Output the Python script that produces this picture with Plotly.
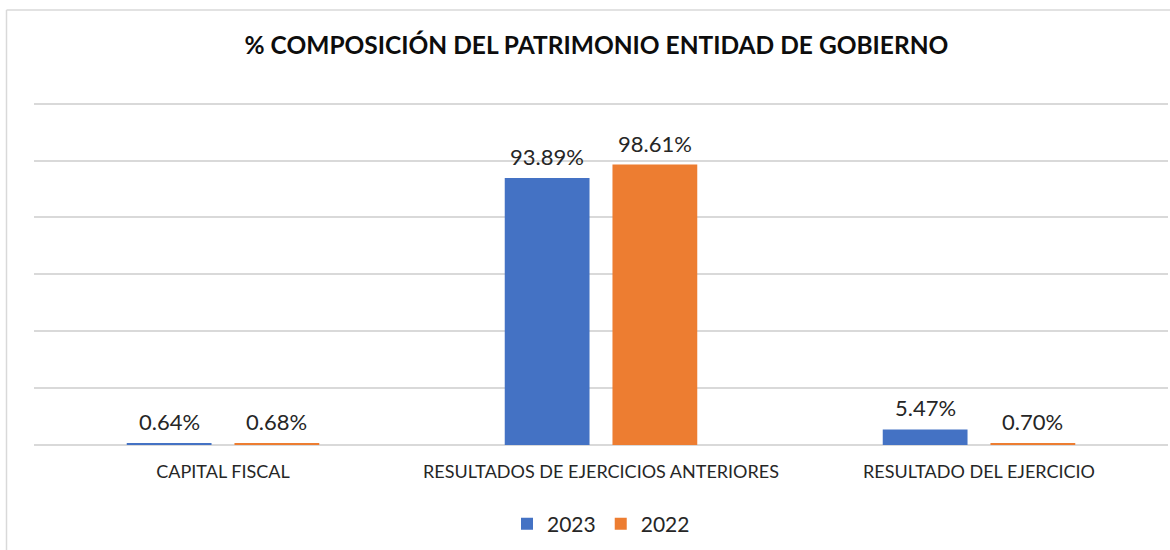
import plotly.graph_objects as go

categories = ["CAPITAL FISCAL", "RESULTADOS DE EJERCICIOS ANTERIORES", "RESULTADO DEL EJERCICIO"]
values_2023 = [0.64, 93.89, 5.47]
values_2022 = [0.68, 98.61, 0.70]
series_names = ["2023", "2022"]
colors = ["#4472C4", "#ED7D31"]
title_text = "% COMPOSICIÓN DEL PATRIMONIO ENTIDAD DE GOBIERNO"

FONT = "Lato"
W, H = 1170, 550
L = 34
BASE = 445          # pixel row of the zero line
YMAX = 122
PXU = 341 / 120     # pixels per percentage point
PH = PXU * YMAX
T = BASE - PH

fig = go.Figure()
for name, vals, col in zip(series_names, [values_2023, values_2022], colors):
    fig.add_trace(go.Bar(
        x=categories, y=vals, name=name, marker=dict(color=col, line=dict(width=0)),
        hoverinfo="x+y",
    ))

# data labels
bargap = 0.43
bargroupgap = 0.213
slot = (1 - bargap) / 2
offsets = [-slot / 2, slot / 2]
annotations = []
for off, vals in zip(offsets, [values_2023, values_2022]):
    for i, v in enumerate(vals):
        annotations.append(dict(
            x=i + off, y=v, xref="x", yref="y", text=f"{v:.2f}%",
            showarrow=False, yanchor="bottom", yshift=6,
            font=dict(family=FONT, size=22, color="#262626"),
        ))

border = "#d9d9d9"
fig.update_layout(
    width=W, height=H,
    paper_bgcolor="white", plot_bgcolor="white",
    margin=dict(l=L, r=W - L - 1134, t=T, b=H - BASE),
    barmode="group", bargap=bargap, bargroupgap=bargroupgap,
    title=dict(text=f"<b>{title_text}</b>", x=596.5 / W, xanchor="center", y=1 - 45 / H, yanchor="middle",
               font=dict(family=FONT, size=24.5, color="#0d0d0d")),
    showlegend=True,
    legend=dict(orientation="h", x=0.5, xanchor="center", y=-79 / PH, yanchor="middle",
                font=dict(family=FONT, size=21, color="#262626"), itemwidth=30,
                traceorder="normal"),
    annotations=annotations,
    xaxis=dict(type="category", showline=False, showgrid=False,
               ticks="outside", ticklen=10, tickcolor="rgba(0,0,0,0)",
               tickfont=dict(family=FONT, size=18, color="#262626")),
    yaxis=dict(range=[0, YMAX], tickvals=[0, 20, 40, 60, 80, 100, 120], showticklabels=False,
               showgrid=True, gridcolor=border, gridwidth=1.5, zeroline=True,
               zerolinecolor=border, zerolinewidth=1.5, fixedrange=True),
    shapes=[
        # chart-area border (left and top edges visible; right/bottom fall off the page)
        dict(type="line", xref="paper", yref="paper",
             x0=(6.5 - L) / 1134, x1=(6.5 - L) / 1134,
             y0=(BASE - 560) / PH, y1=(BASE - 10.5) / PH,
             line=dict(color=border, width=1.5), layer="above"),
        dict(type="line", xref="paper", yref="paper",
             x0=(6.5 - L) / 1134, x1=(1180 - L) / 1134,
             y0=(BASE - 10.5) / PH, y1=(BASE - 10.5) / PH,
             line=dict(color=border, width=1.5), layer="above"),
    ],
)

fig.write_html("out.html", config={"displayModeBar": False},
               post_script="document.body.style.margin='0';")
